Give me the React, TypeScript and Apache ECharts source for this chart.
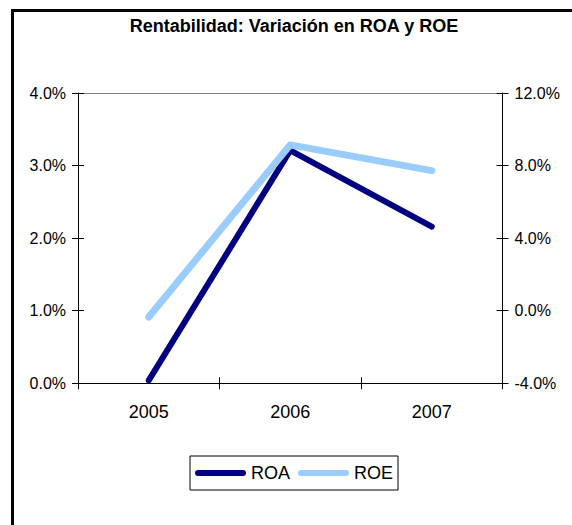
import React, { useEffect, useRef } from "react";
import * as echarts from "echarts";

const years = ["2005", "2006", "2007"];
const roa = [0.04, 3.21, 2.16];
const roe = [-0.35, 9.14, 7.72];
const leftTicks = { min: 0, max: 4, interval: 1 };
const rightTicks = { min: -4, max: 12, interval: 4 };
const titleText = "Rentabilidad: Variación en ROA y ROE";

const FONT = "'Liberation Sans', Arial, sans-serif";
const capsule = "path://M3,0 H48 A3,3 0 0 1 48,6 H3 A3,3 0 0 1 3,0 Z";

export default function App() {
  const ref = useRef<HTMLDivElement>(null);
  useEffect(() => {
    if (!ref.current) return;
    const chart = echarts.init(ref.current, null, { renderer: "svg" });
    const fmt = (v: number) => v.toFixed(1) + "%";
    const black = { color: "#000", width: 1 };
    chart.setOption({
      animation: false,
      backgroundColor: "#fff",
      grid: { left: 78, right: 69.5, top: 93, bottom: 141.7, containLabel: false },
      graphic: [
        {
          type: "rect",
          shape: { x: 12.5, y: 10.5, width: 700, height: 700 },
          style: { fill: "none", stroke: "#000", lineWidth: 3 },
          silent: true,
          z: 100,
        },
        {
          type: "text",
          x: 294,
          y: 25.5,
          style: {
            text: titleText,
            fontFamily: FONT,
            fontSize: 18,
            fontWeight: "bold",
            fill: "#000",
            align: "center",
            verticalAlign: "middle",
          },
        },
      ],
      legend: {
        left: 190,
        top: 456,
        orient: "horizontal",
        padding: [8, 5],
        itemGap: 8,
        itemWidth: 51,
        itemHeight: 6,
        borderColor: "#000",
        borderWidth: 1,
        textStyle: { fontFamily: FONT, fontSize: 18, color: "#000" },
        data: [
          { name: "ROA", icon: capsule },
          { name: "ROE", icon: capsule },
        ],
      },
      xAxis: [
        {
          type: "category",
          data: years,
          position: "bottom",
          boundaryGap: true,
          axisLine: { show: true, onZero: false, lineStyle: black },
          axisTick: { show: true, length: 6, inside: false, lineStyle: black },
          axisLabel: { color: "#000", fontFamily: FONT, fontSize: 18, margin: 20 },
          splitLine: { show: false },
          z: 10,
        },
        {
          type: "category",
          data: years,
          position: "bottom",
          boundaryGap: true,
          axisLine: { show: false, onZero: false },
          axisTick: { show: true, length: 6, inside: true, lineStyle: black },
          axisLabel: { show: false },
          splitLine: { show: false },
        },
        {
          type: "category",
          data: years,
          position: "top",
          boundaryGap: true,
          axisLine: { show: true, onZero: false, lineStyle: { color: "#808080", width: 1 } },
          axisTick: { show: false },
          axisLabel: { show: false },
          splitLine: { show: false },
        },
      ],
      yAxis: [
        {
          type: "value",
          position: "left",
          ...leftTicks,
          axisLine: { show: true, onZero: false, lineStyle: black },
          axisTick: { show: true, length: 6, inside: false, lineStyle: black },
          axisLabel: { color: "#000", fontFamily: FONT, fontSize: 16, margin: 12, formatter: fmt },
          splitLine: { show: false },
          z: 10,
        },
        {
          type: "value",
          position: "right",
          ...rightTicks,
          axisLine: { show: true, onZero: false, lineStyle: black },
          axisTick: { show: true, length: 6, inside: false, lineStyle: black },
          axisLabel: { color: "#000", fontFamily: FONT, fontSize: 16, margin: 12, formatter: fmt },
          splitLine: { show: false },
          z: 10,
        },
        {
          type: "value",
          position: "left",
          ...leftTicks,
          axisLine: { show: false, onZero: false },
          axisTick: { show: true, length: 6, inside: true, lineStyle: black },
          axisLabel: { show: false },
          splitLine: { show: false },
        },
        {
          type: "value",
          position: "right",
          ...rightTicks,
          axisLine: { show: false, onZero: false },
          axisTick: { show: true, length: 6, inside: true, lineStyle: black },
          axisLabel: { show: false },
          splitLine: { show: false },
        },
      ],
      series: [
        {
          name: "ROA",
          type: "line",
          data: roa,
          xAxisIndex: 0,
          yAxisIndex: 0,
          symbol: "none",
          color: "#000080",
          lineStyle: { color: "#000080", width: 6, cap: "round", join: "round" },
          itemStyle: { color: "#000080" },
          z: 3,
        },
        {
          name: "ROE",
          type: "line",
          data: roe,
          xAxisIndex: 0,
          yAxisIndex: 1,
          symbol: "none",
          color: "#99CCFF",
          lineStyle: { color: "#99CCFF", width: 7, cap: "round", join: "round" },
          itemStyle: { color: "#99CCFF" },
          z: 4,
        },
      ],
    });
    return () => chart.dispose();
  }, []);
  return (
    <div
      ref={ref}
      style={{ position: "absolute", left: 0, top: 0, width: 572, height: 525, background: "#fff" }}
    />
  );
}
